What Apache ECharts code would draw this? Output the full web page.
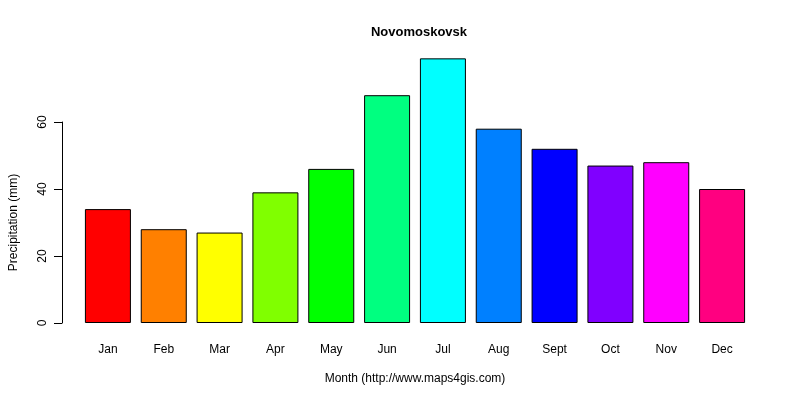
<!DOCTYPE html>
<html><head><meta charset="utf-8">
<script src="https://cdn.jsdelivr.net/npm/echarts@6/dist/echarts.min.js"></script>
<style>html,body{margin:0;padding:0;background:#fff}#c{width:800px;height:400px}</style>
</head><body><div id="c"></div>
<script>
var months = ['Jan','Feb','Mar','Apr','May','Jun','Jul','Aug','Sept','Oct','Nov','Dec'];
var precipitation = [34, 28, 27, 39, 46, 68, 79, 58, 52, 47, 48, 40];
var barColors = ['#FF0000','#FF8000','#FFFF00','#80FF00','#00FF00','#00FF80','#00FFFF','#0080FF','#0000FF','#8000FF','#FF00FF','#FF0080'];
var yTicks = [0, 20, 40, 60];

var font = 'Liberation Sans, Arial, sans-serif';
var chart = echarts.init(document.getElementById('c'), null, {renderer:'canvas'});
chart.setOption({
  animation: false,
  title: {text: 'Novomoskovsk', left: 414, textAlign: 'center', top: 21,
    textStyle: {fontFamily: font, fontSize: 13, fontWeight: 'bold', color: '#000'}},
  grid: [
    {left: 80, right: 50, top: 55, bottom: 77},
    {left: 80, right: 50, top: 122, bottom: 77}
  ],
  xAxis: [
    {gridIndex: 0, type: 'category', data: months,
      axisLine: {show: false}, axisTick: {show: false},
      axisLabel: {margin: 21, color: '#000', fontFamily: font, fontSize: 12},
      name: 'Month (http://www.maps4gis.com)', nameLocation: 'middle', nameGap: 50,
      nameTextStyle: {color: '#000', fontFamily: font, fontSize: 12}},
    {gridIndex: 1, type: 'category', data: months, show: false}
  ],
  yAxis: [
    {gridIndex: 0, type: 'value', min: 0, max: 80, show: false},
    {gridIndex: 1, type: 'value', min: yTicks[0], max: yTicks[yTicks.length-1], interval: 20,
      offset: 21, splitLine: {show: false},
      axisLine: {show: true, lineStyle: {color: '#000', width: 1}},
      axisTick: {show: true, length: 8, lineStyle: {color: '#000'}},
      axisLabel: {rotate: 90, margin: 13, color: '#000', fontFamily: font, fontSize: 12},
      name: 'Precipitation (mm)', nameLocation: 'middle', nameGap: 42,
      nameTextStyle: {color: '#000', fontFamily: font, fontSize: 12}}
  ],
  series: [{
    type: 'bar', xAxisIndex: 0, yAxisIndex: 0,
    barCategoryGap: '17.6%',
    data: precipitation.map(function(v, i){
      return {value: v, itemStyle: {color: barColors[i]}};
    }),
    itemStyle: {borderColor: '#000', borderWidth: 1}
  }]
});
</script></body></html>
